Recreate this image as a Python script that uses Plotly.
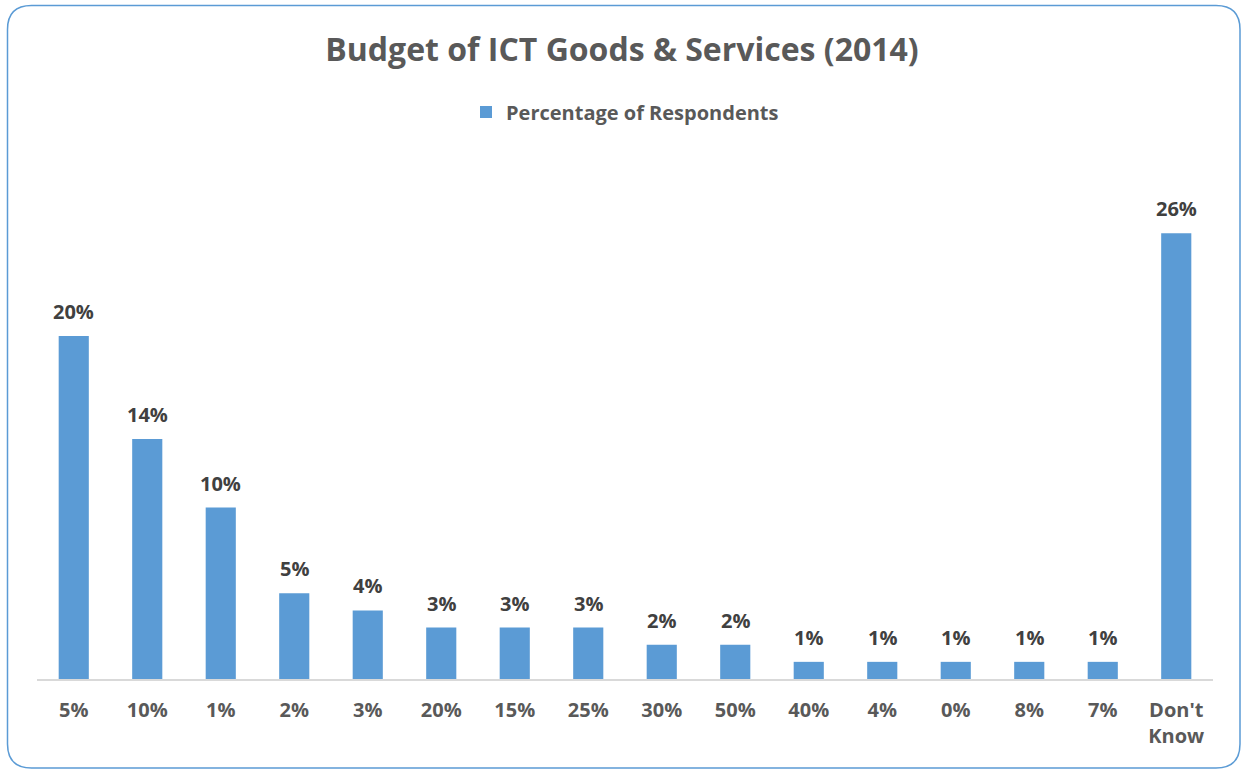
import plotly.graph_objects as go

categories = ["5%", "10%", "1%", "2%", "3%", "20%", "15%", "25%", "30%", "50%",
              "40%", "4%", "0%", "8%", "7%", "Don't<br>Know"]
respondents_pct = [20, 14, 10, 5, 4, 3, 3, 3, 2, 2, 1, 1, 1, 1, 1, 26]
data_labels = [f"{v}%" for v in respondents_pct]

BAR_COLOR = "#5B9BD5"
FONT = "Open Sans"

W, H = 1244, 770
ML, MR, MT, MB = 37, 31, 150, 91
plot_w = W - ML - MR
plot_h = H - MT - MB
ymax = 30.85

fig = go.Figure()
fig.add_trace(go.Bar(
    x=categories,
    y=respondents_pct,
    name="<b>Percentage of Respondents</b>",
    marker=dict(color=BAR_COLOR, line=dict(width=0)),
    width=0.41,
    hoverinfo="skip",
))

for cat, val, lab in zip(categories, respondents_pct, data_labels):
    fig.add_annotation(
        x=cat, y=val, text=f"<b>{lab}</b>", showarrow=False,
        yanchor="bottom", yshift=9,
        font=dict(family=FONT, size=20, color="#404040"),
    )

# rounded outer frame, drawn in paper coordinates
def px_to_paper_x(px):
    return (px - ML) / plot_w

def px_to_paper_y(py):
    return (H - MB - py) / plot_h

x0, x1, y0, y1, r = 7.5, 1240, 5.5, 768, 24
X = lambda p: px_to_paper_x(p)
Y = lambda p: px_to_paper_y(p)
path = (
    f"M {X(x0 + r)},{Y(y0)} L {X(x1 - r)},{Y(y0)} "
    f"Q {X(x1)},{Y(y0)} {X(x1)},{Y(y0 + r)} "
    f"L {X(x1)},{Y(y1 - r)} Q {X(x1)},{Y(y1)} {X(x1 - r)},{Y(y1)} "
    f"L {X(x0 + r)},{Y(y1)} Q {X(x0)},{Y(y1)} {X(x0)},{Y(y1 - r)} "
    f"L {X(x0)},{Y(y0 + r)} Q {X(x0)},{Y(y0)} {X(x0 + r)},{Y(y0)} Z"
)
fig.add_shape(type="path", path=path, xref="paper", yref="paper",
              line=dict(color="#5B9BD5", width=1.5), layer="above")

fig.update_layout(
    width=W, height=H,
    margin=dict(l=ML, r=MR, t=MT, b=MB),
    paper_bgcolor="white", plot_bgcolor="white",
    title=dict(text="<b>Budget of ICT Goods & Services (2014)</b>",
               x=0.5, xanchor="center", y=1 - 50 / H, yanchor="middle",
               font=dict(family=FONT, size=32, color="#595959")),
    showlegend=True,
    legend=dict(orientation="h", x=0.5, xanchor="center",
                y=px_to_paper_y(112), yanchor="middle",
                font=dict(family=FONT, size=20, color="#595959"),
                itemwidth=30),
    xaxis=dict(showline=True, linecolor="#D9D9D9", linewidth=1.5,
               ticks="", showgrid=False, zeroline=False,
               tickfont=dict(family=FONT, size=20, color="#595959"),
               ticklabelstandoff=12, fixedrange=True,
               tickmode="array", tickvals=categories,
               ticktext=[f"<b>{c}</b>" for c in categories]),
    yaxis=dict(visible=False, range=[0, ymax], showgrid=False,
               zeroline=False, fixedrange=True),
    bargap=0.59,
)

fig.write_html("out.html", config={"displayModeBar": False})
